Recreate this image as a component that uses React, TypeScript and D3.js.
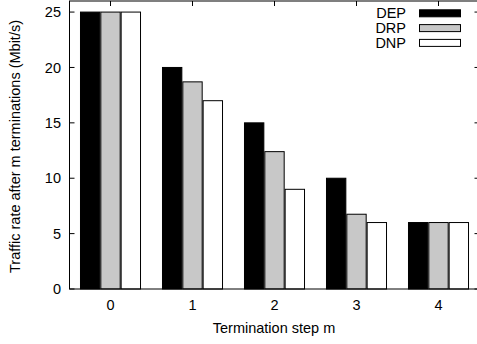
import React from "react";
import * as d3 from "d3";

const categories = ["0", "1", "2", "3", "4"];
const depValues = [25, 20, 15, 10, 6];
const drpValues = [25, 18.7, 12.4, 6.75, 6];
const dnpValues = [25, 17, 9, 6, 6];
const seriesNames = ["DEP", "DRP", "DNP"];
const seriesFills = ["#000000", "#c8c8c8", "#ffffff"];
const yTicks = [0, 5, 10, 15, 20, 25];

const W = 477;
const H = 344;
const plot = { left: 69.5, right: 479.5, top: 1, bottom: 289 };
const FONT = "'Liberation Sans', Arial, Helvetica, sans-serif";
const FS = 14.5;

export default function App() {
  const series = [depValues, drpValues, dnpValues];
  const x = d3.scaleLinear().domain([-0.5, categories.length - 0.5]).range([plot.left, plot.right]);
  const y = d3.scaleLinear().domain([0, 26]).range([plot.bottom, plot.top]);
  const slot = 0.248; // spacing between bars within a group (category units)
  const barW = 0.236; // bar width (category units)

  return (
    <svg
      width={W}
      height={H}
      style={{ position: "fixed", left: 0, top: 0, display: "block", background: "#fff" }}
      fontFamily={FONT}
    >
      <rect x={0} y={0} width={W} height={H} fill="#fff" />
      {/* bars */}
      {series.map((vals, si) =>
        vals.map((v, ci) => {
          const cx = ci + (si - 1) * slot;
          const x0 = x(cx - barW / 2);
          const x1 = x(cx + barW / 2);
          return (
            <rect
              key={`${si}-${ci}`}
              x={x0}
              y={y(v)}
              width={x1 - x0}
              height={y(0) - y(v)}
              fill={seriesFills[si]}
              stroke="#000"
              strokeWidth={1}
            />
          );
        })
      )}
      {/* frame */}
      <rect
        x={plot.left}
        y={plot.top}
        width={plot.right - plot.left}
        height={plot.bottom - plot.top}
        fill="none"
        stroke="#000"
        strokeWidth={1}
      />
      {/* y ticks, mirrored on right */}
      {yTicks.map((t) => (
        <g key={t}>
          <line x1={plot.left} x2={plot.left + 5} y1={y(t)} y2={y(t)} stroke="#000" />
          <line x1={plot.right} x2={plot.right - 5} y1={y(t)} y2={y(t)} stroke="#000" />
          <text x={61} y={y(t)} dy="0.35em" textAnchor="end" fontSize={FS} fill="#000">
            {t}
          </text>
        </g>
      ))}
      {/* x ticks at top, labels below */}
      {categories.map((c, i) => (
        <g key={c}>
          <line x1={x(i)} x2={x(i)} y1={plot.top} y2={plot.top + 5} stroke="#000" />
          <text x={x(i)} y={305} dy="0.35em" textAnchor="middle" fontSize={FS} fill="#000">
            {c}
          </text>
        </g>
      ))}
      {/* axis titles */}
      <text x={274} y={328} dy="0.35em" textAnchor="middle" fontSize={FS} fill="#000">
        Termination step m
      </text>
      <text
        transform={`translate(15,${(plot.top + plot.bottom) / 2 + 1.5}) rotate(-90)`}
        textAnchor="middle"
        dy="0.35em"
        fontSize={FS}
        fill="#000"
      >
        Traffic rate after m terminations (Mbit/s)
      </text>
      {/* legend */}
      {seriesNames.map((n, i) => {
        const cy = 13.3 + i * 14.8;
        return (
          <g key={n}>
            <text x={406} y={cy} dy="0.35em" textAnchor="end" fontSize={FS} fill="#000">
              {n}
            </text>
            <rect x={419.5} y={cy - 3.5} width={41} height={7} fill={seriesFills[i]} stroke="#000" strokeWidth={1} />
          </g>
        );
      })}
    </svg>
  );
}
